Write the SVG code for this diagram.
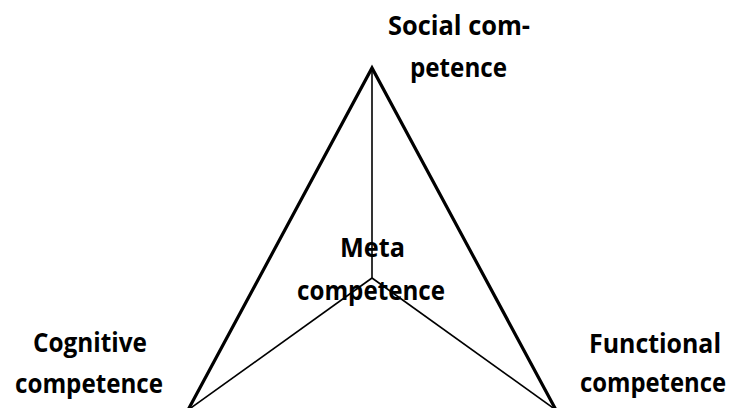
<svg xmlns="http://www.w3.org/2000/svg" width="737" height="408" viewBox="0 0 737 408">
<style>
text{font-family:"Open Sans","Liberation Sans",sans-serif;font-weight:bold;font-size:26px;fill:#000;text-anchor:middle}
.thick{stroke:#000;stroke-width:3.2;fill:none;stroke-linejoin:miter}
.thin{stroke:#000;stroke-width:1.6;fill:none}
</style>
<rect width="737" height="408" fill="#fff"/>
<g id="connectors">
<polyline class="thick" points="188,410 372,68 556,410"/>
<line class="thin" x1="372" y1="68" x2="372" y2="278"/>
<line class="thin" x1="372" y1="278" x2="188" y2="410"/>
<line class="thin" x1="372" y1="278" x2="556" y2="410"/>
</g>
<g id="social">
<text x="459" y="35" textLength="142" lengthAdjust="spacingAndGlyphs">Social com-</text>
<text x="458.5" y="77" textLength="97" lengthAdjust="spacingAndGlyphs">petence</text>
</g>
<g id="meta">
<text x="372.5" y="257" textLength="65" lengthAdjust="spacingAndGlyphs">Meta</text>
<text x="371" y="300" textLength="148" lengthAdjust="spacingAndGlyphs">competence</text>
</g>
<g id="cognitive">
<text x="90" y="352" textLength="114" lengthAdjust="spacingAndGlyphs">Cognitive</text>
<text x="89" y="393" textLength="148" lengthAdjust="spacingAndGlyphs">competence</text>
</g>
<g id="functional">
<text x="655" y="353" textLength="132" lengthAdjust="spacingAndGlyphs">Functional</text>
<text x="653" y="392" textLength="146" lengthAdjust="spacingAndGlyphs">competence</text>
</g>
</svg>
